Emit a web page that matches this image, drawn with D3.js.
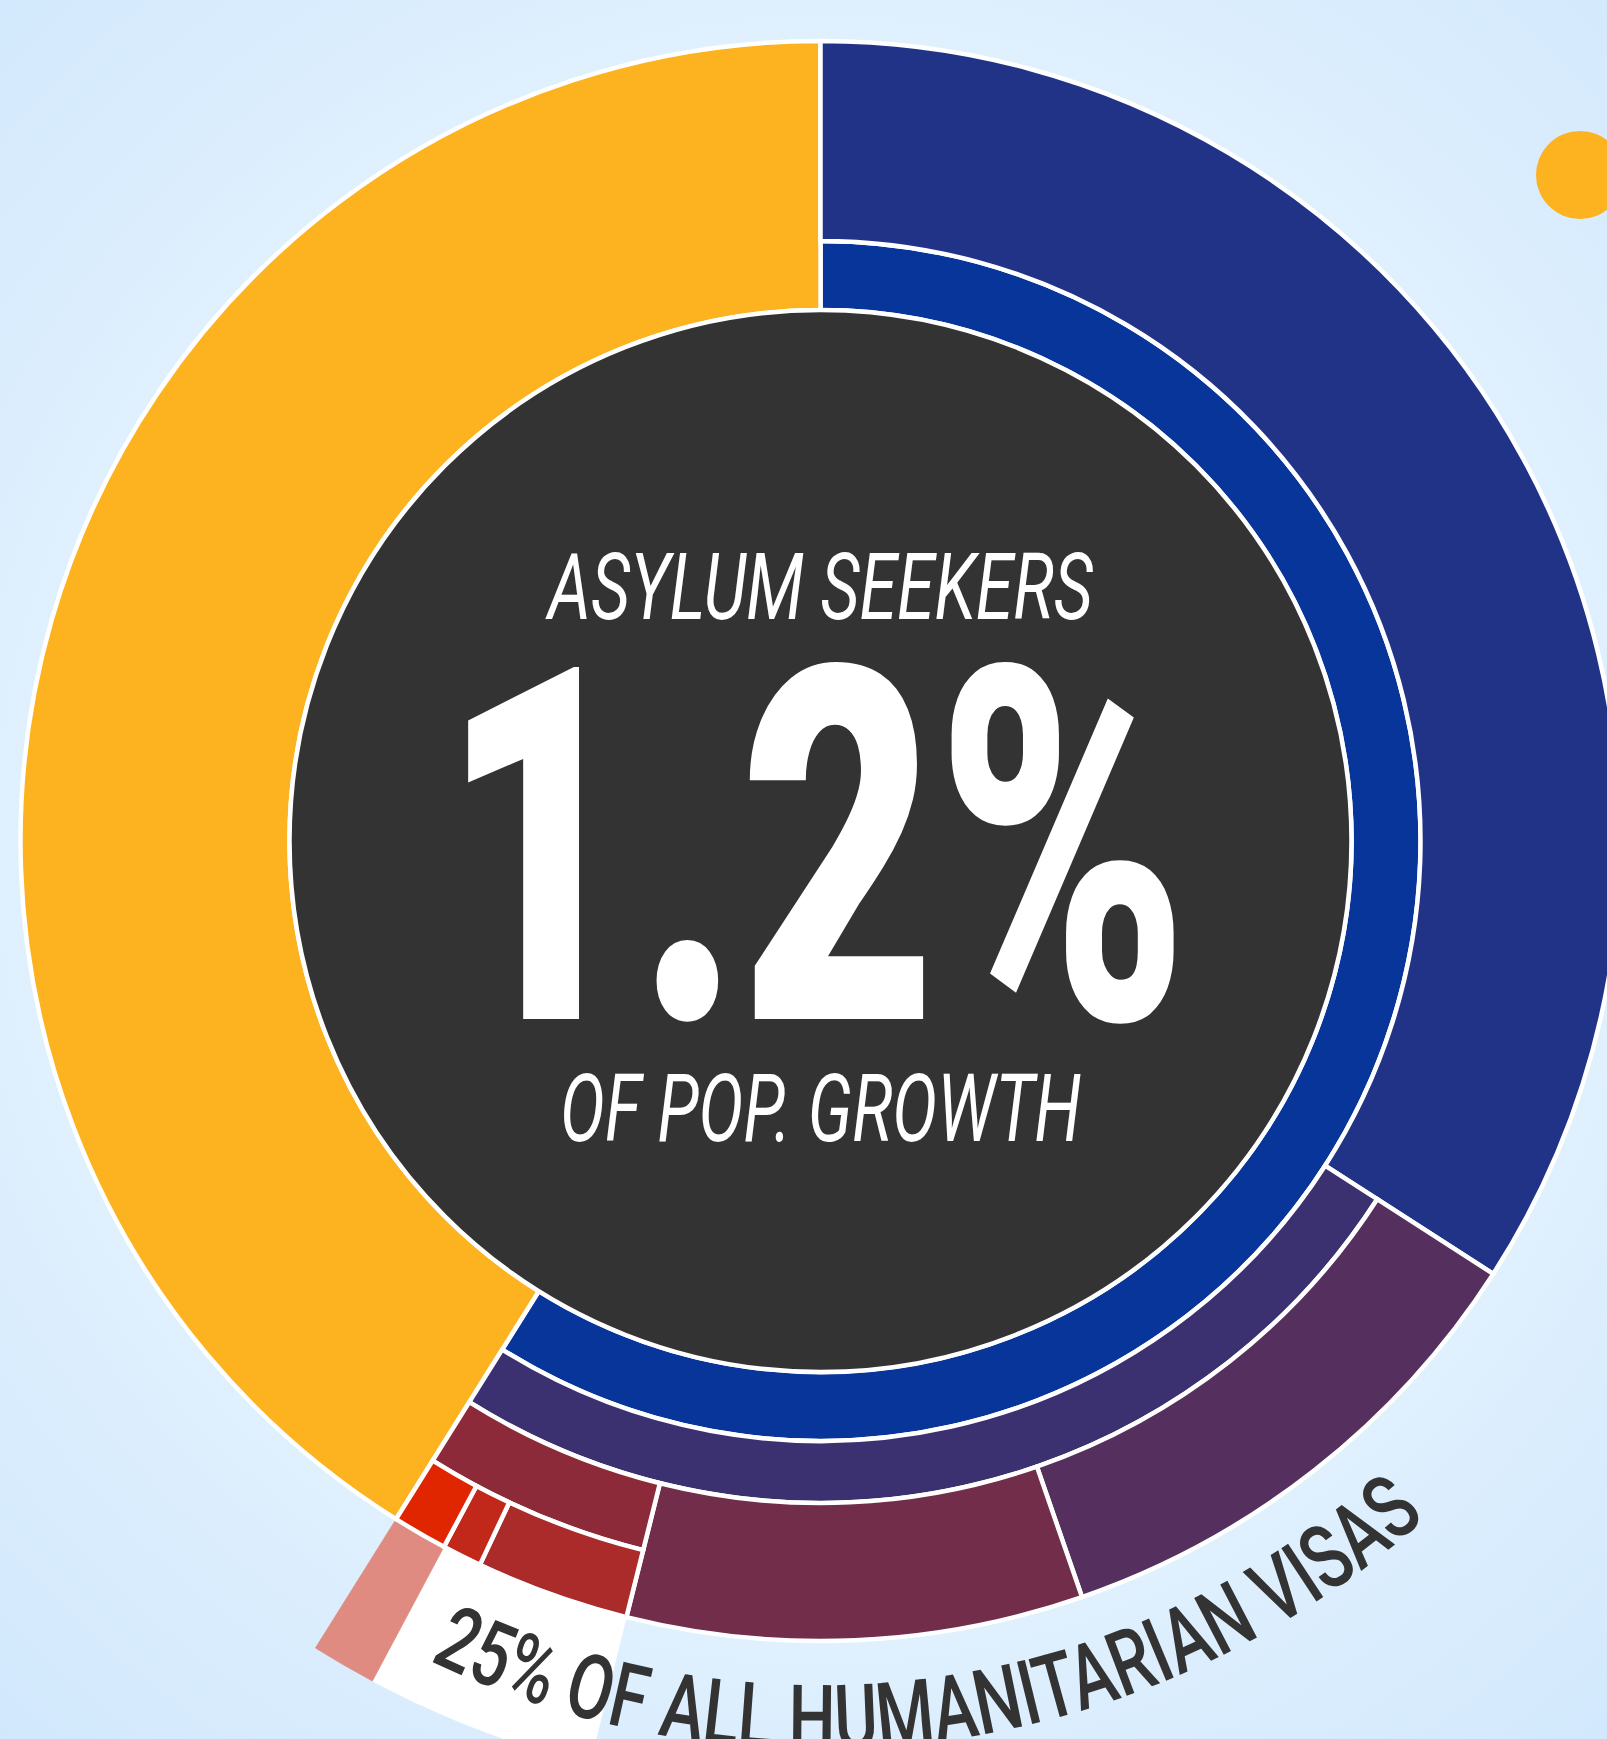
<!DOCTYPE html>
<html>
<head>
    <meta charset="UTF-8">
    <title>Asylum seekers - share of population growth</title>
    <script src="https://d3js.org/d3.v7.min.js"></script>
    <style>
        body { margin: 0; background: #dcedfc; }
        svg { display: block; }
    </style>
</head>
<body>
    <div id="chart"></div>

    <script type="text/javascript">

        // values are percent of the full circle
        // ring 1 splits the whole, every next ring splits one segment of the ring before
        let ring1 = [["blue", 58.9], ["yellow", 41.1]];
        let ring2 = [["navy", 34.1], ["purple", 24.8]];            // split of "blue"
        let ring3 = [["plum", 10.6], ["maroon", 9.2], ["brick", 5.0]]; // split of "purple"
        let ring4 = [["rust", 3.1], ["red", 0.8], ["asylum", 1.1]];   // split of "brick"
        let highlight = [["rust", 3.1], ["red", 0.8], ["asylum", 1.1]]; // outer band under "brick"
        let parents = ["blue", "purple", "brick"];

        let centreLabels = ["ASYLUM SEEKERS", "1.2%", "OF POP. GROWTH"];
        let arcLabel = "25% OF ALL HUMANITARIAN VISAS";

        let colors = {
            blue: "#07359a", yellow: "#fdb21f", navy: "#213386", purple: "#3c3170",
            plum: "#55305e", maroon: "#722d4a", brick: "#8d2a39", rust: "#ab2a2a",
            red: "#c2281a", asylum: "#e02600"
        };
        let highlightColors = { rust: "#ffffff", red: "#ffffff", asylum: "#df8b81" };

        let width = 1607, height = 1739;
        let cx = 820.5, cy = 841;
        let radii = [531, 600, 662, 731, 800, 952];

        let svg = d3.select("#chart")
            .append("svg")
            .attr("width", width)
            .attr("height", height);

        // background
        let defs = svg.append("defs");
        let bg = defs.append("radialGradient")
            .attr("id", "bg")
            .attr("gradientUnits", "userSpaceOnUse")
            .attr("cx", cx).attr("cy", cy).attr("r", 1250);
        bg.append("stop").attr("offset", "0").attr("stop-color", "#e8f5fe");
        bg.append("stop").attr("offset", "0.6").attr("stop-color", "#e1f1fe");
        bg.append("stop").attr("offset", "1").attr("stop-color", "#d0e7fc");
        svg.append("rect").attr("width", width).attr("height", height).attr("fill", "url(#bg)");

        svg.append("circle")
            .attr("cx", 1580).attr("cy", 175).attr("r", 44)
            .attr("fill", "#fdb21f");

        let angle = d3.scaleLinear().domain([0, 100]).range([0, 2 * Math.PI]);

        // cumulative positions for one ring
        function layout(ring, start, level) {
            let acc = start;
            return ring.map(function ([name, value]) {
                let d = { name: name, value: value, a0: acc, a1: acc + value, level: level };
                acc += value;
                return d;
            });
        }

        let rings = [];
        let start = 0;
        [ring1, ring2, ring3, ring4].forEach(function (ring, i) {
            let laid = layout(ring, start, i);
            rings.push(laid);
            if (i < parents.length) start = laid.find(d => d.name === parents[i]).a0;
        });
        let segments = rings.flat();
        segments.forEach(function (d) {
            d.r0 = radii[d.level];
            // a segment without children runs out to the outer edge
            d.r1 = parents.includes(d.name) ? radii[d.level + 1] : radii[4];
        });

        let brick = segments.find(d => d.name === "brick");
        let outer = layout(highlight, brick.a0, 4);
        outer.forEach(function (d) { d.r0 = radii[4]; d.r1 = radii[5]; });

        let arc = d3.arc()
            .innerRadius(d => d.r0)
            .outerRadius(d => d.r1)
            .startAngle(d => angle(d.a0))
            .endAngle(d => angle(d.a1));

        let g = svg.append("g").attr("transform", "translate(" + cx + "," + cy + ")");

        g.selectAll("path.outer")
            .data(outer)
            .enter()
            .append("path")
            .attr("class", "outer")
            .attr("d", arc)
            .attr("fill", d => highlightColors[d.name])
            .attr("stroke", d => highlightColors[d.name])
            .attr("stroke-width", 0.8);

        g.selectAll("path.seg")
            .data(segments)
            .enter()
            .append("path")
            .attr("class", "seg")
            .attr("d", arc)
            .attr("fill", d => colors[d.name])
            .attr("stroke", "#fff")
            .attr("stroke-width", 4.5);

        g.append("circle")
            .attr("r", radii[0])
            .attr("fill", "#333333")
            .attr("stroke", "#fff")
            .attr("stroke-width", 4.5);

        // centre text
        g.append("text")
            .attr("x", 0).attr("y", 619 - cy)
            .attr("text-anchor", "middle")
            .attr("font-family", "Roboto, sans-serif")
            .attr("font-style", "italic")
            .attr("font-size", 93)
            .attr("fill", "#fff")
            .attr("textLength", 545)
            .attr("lengthAdjust", "spacingAndGlyphs")
            .text(centreLabels[0]);

        g.append("text")
            .attr("x", -6).attr("y", 1019 - cy)
            .attr("text-anchor", "middle")
            .attr("font-family", "Roboto, sans-serif")
            .attr("font-weight", 900)
            .attr("font-size", 495)
            .attr("fill", "#fff")
            .attr("textLength", 748)
            .attr("lengthAdjust", "spacingAndGlyphs")
            .text(centreLabels[1]);

        g.append("text")
            .attr("x", 0).attr("y", 1141 - cy)
            .attr("text-anchor", "middle")
            .attr("font-family", "Roboto, sans-serif")
            .attr("font-style", "italic")
            .attr("font-size", 94)
            .attr("fill", "#fff")
            .attr("textLength", 521)
            .attr("lengthAdjust", "spacingAndGlyphs")
            .text(centreLabels[2]);

        // curved label along the bottom, drawn counter-clockwise so letters stand upright
        // (path lives in the same translated space as the text)
        let rText = 908;
        let deg = Math.PI / 180;
        let pt = a => [rText * Math.sin(a * deg), -rText * Math.cos(a * deg)];
        let p0 = pt(212), p1 = pt(125);
        g.append("path")
            .attr("id", "labelArc")
            .attr("fill", "none")
            .attr("d", "M" + p0 + " A" + rText + "," + rText + " 0 0 0 " + p1);

        g.append("text")
            .attr("font-family", "Roboto, sans-serif")
            .attr("font-weight", 500)
            .attr("font-size", 90)
            .attr("fill", "#333333")
            .append("textPath")
            .attr("href", "#labelArc")
            .attr("startOffset", (212 - 205.5) * deg * rText)
            .attr("textLength", (205.5 - 138.2) * deg * rText)
            .attr("lengthAdjust", "spacingAndGlyphs")
            .text(arcLabel);

    </script>
</body>
</html>
